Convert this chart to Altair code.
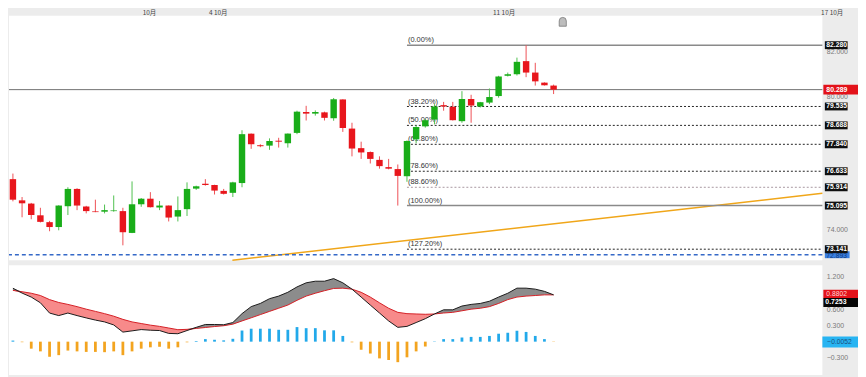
import altair as alt
import pandas as pd

# ---------------- candle data ----------------
candle_open = [76.279, 75.329, 75.184, 74.659, 74.352, 74.133, 75.066, 75.841, 75.053, 74.834,
               74.821, 74.847, 74.847, 73.870, 75.153, 75.403, 75.009, 75.096, 74.602, 74.934,
               75.854, 76.073, 76.016, 75.753, 75.666, 76.104, 78.316, 77.799, 77.781, 78.001,
               77.887, 78.351, 79.288, 79.214, 79.271, 79.008, 79.850, 78.544, 77.668, 77.493,
               77.142, 76.818, 76.730, 76.410, 78.062, 78.644, 78.951, 79.595, 79.520, 78.876,
               79.871, 79.534, 79.709, 80.002, 80.909, 80.979, 81.566, 81.054, 80.603, 80.471]
candle_high = [76.529, 75.478, 75.215, 74.996, 74.409, 75.110, 75.916, 75.872, 75.083, 75.359,
               75.140, 75.548, 74.996, 76.178, 75.434, 75.697, 75.302, 75.100, 75.504, 76.135,
               75.986, 76.279, 76.029, 75.841, 76.161, 78.469, 78.325, 77.843, 78.106, 78.132,
               78.325, 79.345, 79.564, 79.358, 79.302, 79.915, 79.858, 78.806, 77.957, 77.519,
               77.300, 77.186, 76.936, 78.018, 78.688, 78.982, 79.639, 79.740, 79.740, 80.221,
               80.059, 79.740, 80.340, 80.909, 81.054, 81.724, 82.280, 81.491, 80.616, 80.515]
candle_low = [75.285, 74.571, 74.483, 74.339, 73.945, 73.988, 74.672, 74.891, 74.746, 74.800,
              74.746, 74.821, 73.314, 73.860, 75.040, 75.010, 74.891, 74.383, 74.383, 74.628,
              75.797, 75.986, 75.591, 75.591, 75.478, 75.916, 77.637, 77.711, 77.593, 77.694,
              77.694, 78.294, 78.907, 79.126, 78.907, 78.894, 78.395, 77.300, 77.186, 76.980,
              76.748, 76.717, 75.095, 76.161, 77.887, 78.587, 78.732, 79.345, 78.907, 78.806,
              78.806, 79.490, 79.639, 79.928, 80.878, 80.922, 80.848, 80.471, 80.471, 80.091]
candle_close = [75.359, 75.197, 74.672, 74.365, 74.133, 75.096, 75.841, 75.096, 74.847, 74.803,
                74.891, 74.877, 73.901, 75.153, 75.403, 75.022, 75.096, 74.558, 74.891, 75.841,
                75.959, 76.016, 75.767, 75.622, 76.135, 78.294, 77.843, 77.755, 77.987, 77.957,
                78.320, 79.302, 79.214, 79.288, 79.026, 79.858, 78.570, 77.650, 77.475, 77.186,
                76.862, 76.748, 76.424, 77.987, 78.614, 78.920, 79.534, 79.534, 78.920, 79.871,
                79.577, 79.726, 79.958, 80.878, 80.979, 81.535, 81.054, 80.660, 80.484, 80.289]

# ---------------- MACD data ----------------
macd_line = [0.99, 0.90, 0.826, 0.72, 0.53, 0.483, 0.53, 0.483, 0.44, 0.40,
             0.366, 0.31, 0.177, 0.20, 0.224, 0.212, 0.206, 0.153, 0.147, 0.206,
             0.265, 0.318, 0.318, 0.313, 0.354, 0.519, 0.649, 0.708, 0.796, 0.844,
             0.915, 1.014, 1.09, 1.12, 1.12, 1.168, 1.09, 0.973, 0.826, 0.678,
             0.531, 0.384, 0.265, 0.283, 0.354, 0.425, 0.513, 0.59, 0.59, 0.66,
             0.69, 0.708, 0.749, 0.826, 0.897, 0.991, 0.991, 0.973, 0.932, 0.867]
signal_line = [0.95, 0.925, 0.897, 0.855, 0.779, 0.726, 0.69, 0.649, 0.602, 0.561,
               0.519, 0.472, 0.413, 0.366, 0.336, 0.306, 0.283, 0.253, 0.222, 0.228,
               0.245, 0.262, 0.28, 0.295, 0.324, 0.384, 0.442, 0.501, 0.561, 0.619,
               0.678, 0.766, 0.844, 0.897, 0.944, 0.986, 0.991, 0.973, 0.915, 0.826,
               0.72, 0.619, 0.543, 0.519, 0.513, 0.507, 0.513, 0.531, 0.543, 0.572,
               0.602, 0.619, 0.649, 0.708, 0.779, 0.826, 0.844, 0.855, 0.867, 0.867]
histogram = [0.02, -0.01, -0.13, -0.18, -0.28, -0.25, -0.165, -0.18, -0.19, -0.19,
             -0.195, -0.18, -0.25, -0.18, -0.13, -0.105, -0.095, -0.13, -0.105, -0.012,
             0.012, 0.047, 0.035, 0.024, 0.053, 0.206, 0.24, 0.24, 0.24, 0.22,
             0.22, 0.27, 0.25, 0.25, 0.21, 0.21, 0.106, -0.012, -0.15, -0.22,
             -0.31, -0.34, -0.38, -0.29, -0.18, -0.09, 0.006, 0.047, 0.047, 0.077,
             0.088, 0.088, 0.106, 0.147, 0.165, 0.2, 0.18, 0.106, 0.047, -0.005]

# ---------------- drawing objects ----------------
fib_labels = ["(0.00%)", "(38.20%)", "(50.00%)", "(61.80%)", "(78.60%)", "(88.60%)", "(100.00%)", "(127.20%)"]
fib_prices = [82.280, 79.535, 78.688, 77.840, 76.633, 75.914, 75.095, 73.141]
fib_kind = ["solid", "dot", "dot", "dot", "dot", "light", "solid", "dot"]
fib_anchor_idx = 44

support_level = 72.893
trend_idx = [24.95, 89.33]
trend_price = [72.644, 75.644]

date_labels = ["10月", "4 10月", "11 10月", "17 10月"]
date_label_idx = [15.9, 23.4, 54.6, 90.4]
marker_idx = [61]

price_ticks = [74, 80, 82]
macd_ticks = [-0.3, 0.3, 0.6, 1.2]
macd_box_values = [0.8802, 0.7253, -0.0052]

# ---------------- layout ----------------
W = 822
H_PRICE = 247
H_MACD = 111
X_DOMAIN = [0.572, 89.33]
P_DOMAIN = [72.644, 83.594]
M_DOMAIN = [-0.619, 1.416]

GREEN = "#19ad19"
RED = "#e8161c"
FONT = "Liberation Sans"

n = len(candle_open)
candles = pd.DataFrame({
    "idx": list(range(1, n + 1)),
    "open": candle_open, "high": candle_high, "low": candle_low, "close": candle_close,
})
macd_df = pd.DataFrame({"idx": list(range(1, n + 1)), "macd": macd_line,
                        "sig": signal_line, "hist": histogram})
fib_df = pd.DataFrame({"label": fib_labels, "price": fib_prices, "kind": fib_kind,
                       "start": [fib_anchor_idx] * len(fib_prices)})
trend_df = pd.DataFrame({"idx": trend_idx, "price": trend_price})
date_df = pd.DataFrame({"idx": date_label_idx, "label": date_labels})
marker_df = pd.DataFrame({"idx": marker_idx})
last_df = pd.DataFrame({"price": [candle_close[-1]]})
support_df = pd.DataFrame({"price": [support_level]})
mbox_df = pd.DataFrame({"v": macd_box_values})

xscale = alt.Scale(domain=X_DOMAIN, nice=False, zero=False, padding=0)
pscale = alt.Scale(domain=P_DOMAIN, nice=False, zero=False, padding=0)
mscale = alt.Scale(domain=M_DOMAIN, nice=False, zero=False, padding=0)

price_axis = alt.Axis(orient="right", values=price_ticks, format=".3f", labelFontSize=7,
                      labelColor="#7a7a7a", ticks=False, domain=False, grid=False,
                      labelPadding=4, labelFont=FONT, title=None)
macd_axis = alt.Axis(orient="right", values=macd_ticks, format=".3f", labelFontSize=7,
                     labelColor="#7a7a7a", ticks=False, domain=False, grid=False,
                     labelPadding=4, labelFont=FONT, title=None)


def X(f="idx"):
    return alt.X(f, type="quantitative", scale=xscale, axis=None, title=None)


def YP(f):
    return alt.Y(f, type="quantitative", scale=pscale, axis=price_axis, title=None)


def YM(f):
    return alt.Y(f, type="quantitative", scale=mscale, axis=macd_axis, title=None)


up = "datum.close >= datum.open"

# ---- price panel layers ----
trend = alt.Chart(trend_df).mark_line(color="#f0a619", strokeWidth=1.5).encode(x=X(), y=YP("price"))
support = alt.Chart(support_df).mark_rule(color="#3569c8", strokeWidth=1.5, strokeDash=[4, 3]).encode(y=YP("price"))
last_rule = alt.Chart(last_df).mark_rule(color="#707070", strokeWidth=1).encode(y=YP("price"))

fib_base = alt.Chart(fib_df)
fib_solid = fib_base.transform_filter(alt.datum.kind == "solid").mark_rule(
    color="#8a8a8a", strokeWidth=1.5).encode(x=X("start"), x2=alt.value("width"), y=YP("price"))
fib_dot = fib_base.transform_filter(alt.datum.kind == "dot").mark_rule(
    color="#222222", strokeWidth=1, strokeDash=[2, 2]).encode(x=X("start"), x2=alt.value("width"), y=YP("price"))
fib_light = fib_base.transform_filter(alt.datum.kind == "light").mark_rule(
    color="#a898a0", strokeWidth=1, strokeDash=[2, 2]).encode(x=X("start"), x2=alt.value("width"), y=YP("price"))
fib_text = fib_base.mark_text(align="left", baseline="bottom", dx=1, dy=-1, fontSize=7.5,
                              color="#333333", font=FONT).encode(x=X("start"), y=YP("price"), text="label:N")

wicks = alt.Chart(candles).mark_rule(strokeWidth=1).encode(
    x=X(), y=YP("low"), y2="high:Q",
    color=alt.condition(up, alt.value("#4fc04f"), alt.value("#ee5055")))
bodies = alt.Chart(candles).mark_bar(size=6.5).encode(
    x=X(), y=YP("open"), y2="close:Q",
    color=alt.condition(up, alt.value(GREEN), alt.value(RED)))

marker = alt.Chart(marker_df).mark_point(
    shape="M-0.8,1 L0.8,1 L0.8,-0.2 Q0.8,-1 0,-1 Q-0.8,-1 -0.8,-0.2 Z",
    filled=True, fill="#bdbdbd", stroke="#777777", strokeWidth=0.8, size=80, opacity=1
).encode(x=X(), y=alt.value(6))

dates = alt.Chart(date_df).mark_text(fontSize=6.5, color="#444444", font="Noto Sans CJK SC",
                                     baseline="middle").encode(x=X(), y=alt.value(-3), text="label:N")

fib_box = fib_base.mark_tick(orient="horizontal", size=23, thickness=8, color="#111111", opacity=1).encode(
    x=alt.value(836), y=YP("price"))
fib_box_text = fib_base.mark_text(align="left", baseline="middle", fontSize=6.8, fontWeight="bold",
                                  color="white", font=FONT).encode(
    x=alt.value(826), y=YP("price"), text=alt.Text("price:Q", format=".3f"))
support_box = alt.Chart(support_df).mark_tick(orient="horizontal", size=25, thickness=7, color="#3a7fe0", opacity=1).encode(
    x=alt.value(837), y=YP("price"))
support_text = alt.Chart(support_df).mark_text(align="left", baseline="middle", dy=1, fontSize=6.8,
                                               color="#123a7a", font=FONT).encode(
    x=alt.value(826), y=YP("price"), text=alt.Text("price:Q", format=".3f"))
last_box = alt.Chart(last_df).mark_tick(orient="horizontal", size=35, thickness=10, color="#e3121a", opacity=1).encode(
    x=alt.value(840.5), y=YP("price"))
last_text = alt.Chart(last_df).mark_text(align="left", baseline="middle", fontSize=7, fontWeight="bold",
                                         color="white", font=FONT).encode(
    x=alt.value(826), y=YP("price"), text=alt.Text("price:Q", format=".3f"))

price_chart = alt.layer(
    trend, support, last_rule, fib_solid, fib_dot, fib_light, fib_text,
    wicks, bodies, marker, dates,
    support_box, support_text, fib_box, fib_box_text, last_box, last_text
).properties(width=W, height=H_PRICE)

# ---- MACD panel layers ----
mbase = alt.Chart(macd_df).transform_calculate(
    hi="max(datum.macd, datum.sig)", lo="min(datum.macd, datum.sig)")
area_up = mbase.mark_area(color="#8c8c8c", opacity=1).encode(x=X(), y=YM("hi:Q"), y2="sig:Q")
area_dn = mbase.mark_area(color="#f78a8a", opacity=1).encode(x=X(), y=YM("sig:Q"), y2="lo:Q")
sig_l = mbase.mark_line(color="#d41e24", strokeWidth=1).encode(x=X(), y=YM("sig:Q"))
macd_l = mbase.mark_line(color="#1a1a1a", strokeWidth=1).encode(x=X(), y=YM("macd:Q"))
bars = alt.Chart(macd_df).mark_bar(size=2.8).encode(
    x=alt.X("idx", type="quantitative", scale=xscale,
            axis=alt.Axis(orient="bottom", labels=False, ticks=False, domain=True, domainColor="#111111",
                          domainWidth=2, grid=False, title=None)),
    y=YM("hist:Q"), y2=alt.datum(0),
    color=alt.condition("datum.hist >= 0", alt.value("#22a9ea"), alt.value("#f3a41f")))

mb = alt.Chart(mbox_df)
box_red = mb.transform_filter("datum.v > 0.8").mark_tick(orient="horizontal", size=35, thickness=9, color="#e3121a", opacity=1).encode(
    x=alt.value(840.5), y=YM("v:Q"))
box_red_t = mb.transform_filter("datum.v > 0.8").mark_text(align="left", baseline="middle", fontSize=6.8,
                                                           color="#ffd6d6", font=FONT).encode(
    x=alt.value(826), y=YM("v:Q"), text=alt.Text("v:Q", format=".4f"))
box_blk = mb.transform_filter("datum.v > 0.5 && datum.v < 0.8").mark_tick(orient="horizontal", size=35, thickness=9, color="#050505", opacity=1).encode(
    x=alt.value(840.5), y=YM("v:Q"))
box_blk_t = mb.transform_filter("datum.v > 0.5 && datum.v < 0.8").mark_text(align="left", baseline="middle", fontSize=7,
                                                                           fontWeight="bold", color="white", font=FONT).encode(
    x=alt.value(825), y=YM("v:Q"), text=alt.Text("v:Q", format=".4f"))
box_blue = mb.transform_filter("datum.v < 0.5").mark_tick(orient="horizontal", size=36, thickness=11, color="#27b4f2", opacity=1).encode(
    x=alt.value(840), y=YM("v:Q"))
box_blue_t = mb.transform_filter("datum.v < 0.5").mark_text(align="left", baseline="middle", fontSize=6.8,
                                                            color="#1c4f7c", font=FONT).encode(
    x=alt.value(827), y=YM("v:Q"), text=alt.Text("v:Q", format=".4f"))

macd_chart = alt.layer(
    bars, area_up, area_dn, sig_l, macd_l,
    box_red, box_red_t, box_blk, box_blk_t, box_blue, box_blue_t
).properties(width=W, height=H_MACD)

chart = alt.vconcat(price_chart, macd_chart, spacing=2).properties(
    background="#ececec", padding=0
).configure_view(fill="white", strokeWidth=0)

chart.save("out.html", embed_options={"renderer": "svg", "actions": False})
